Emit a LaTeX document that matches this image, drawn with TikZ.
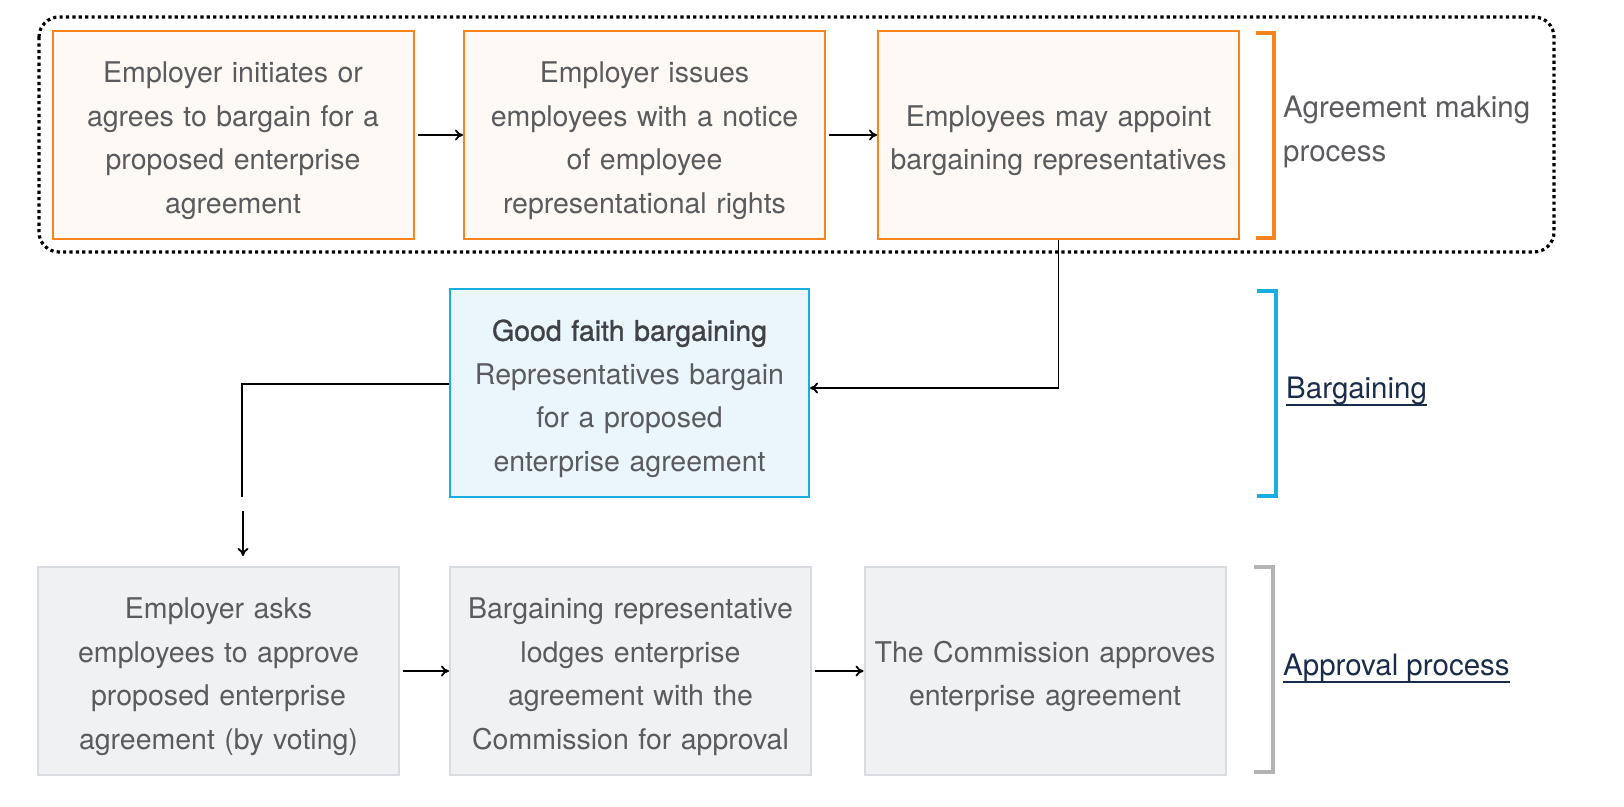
\documentclass[tikz,border=0pt]{standalone}
\usepackage{fontspec}
\setmainfont{TeX Gyre Heros}
\usetikzlibrary{arrows.meta}
\definecolor{txt}{HTML}{5A5B5E}
\definecolor{dark}{HTML}{404246}
\definecolor{orng}{HTML}{F7821E}
\definecolor{ofill}{HTML}{FEF9F4}
\definecolor{bline}{HTML}{1AAEE0}
\definecolor{bfill}{HTML}{EAF5FC}
\definecolor{gline}{HTML}{D8DBDF}
\definecolor{gfill}{HTML}{F0F1F3}
\definecolor{gbrk}{HTML}{B3B3B3}
\definecolor{navy}{HTML}{1B2B4B}
\begin{document}
\begin{tikzpicture}[x=1pt,y=-1pt,
  box/.style={rectangle, line width=2pt, minimum width=361pt, minimum height=208pt},
  btext/.style={text width=345pt, inner sep=0pt, align=center, text=txt,
    font=\fontsize{28.5}{43.5}\selectfont},
  obox/.style={box, draw=orng, fill=ofill},
  bbox/.style={box, draw=bline, fill=bfill, minimum width=359pt},
  gbox/.style={box, draw=gline, fill=gfill},
  lab/.style={inner sep=0pt, anchor=base west, font=\fontsize{29.5}{44}\selectfont},
  conn/.style={line width=1.8pt, black},
  arr/.style={conn, -{To[length=8pt,width=11pt]}},
  brk/.style={line width=4pt, miter limit=10},
]
\useasboundingbox (0,0) rectangle (1624,806);

% dotted group frame
\draw[line width=3.2pt, dash pattern=on 3.2pt off 3.2pt, rounded corners=20pt]
  (39,17) rectangle (1554,252);

% top row
\node[obox] (b1) at (233,135) {};
\node[btext] (b1t) at ([yshift=-5.5pt]b1.center) {Employer initiates or\\agrees to bargain for a\\proposed enterprise\\agreement};
\node[obox] (b2) at (644.5,135) {};
\node[btext] (b2t) at ([yshift=-5.5pt]b2.center) {Employer issues\\employees with a notice\\of employee\\representational rights};
\node[obox] (b3) at (1058.5,135) {};
\node[btext] (b3t) at ([yshift=-5.5pt]b3.center) {Employees may appoint\\bargaining representatives};

% bargaining
\node[bbox] (gb) at (629.5,393) {};
\node[btext] (gbt) at ([yshift=-5.5pt]gb.center) {{\color{dark}\addfontfeatures{FakeBold=1.2}Good faith bargaining}\\Representatives bargain\\for a proposed\\enterprise agreement};

% bottom row
\node[gbox] (a1) at (218.5,671) {};
\node[btext] (a1t) at ([yshift=-5.5pt]a1.center) {Employer asks\\employees to approve\\proposed enterprise\\agreement (by voting)};
\node[gbox] (a2) at (630.5,671) {};
\node[btext] (a2t) at ([yshift=-5.5pt]a2.center) {Bargaining representative\\lodges enterprise\\agreement with the\\Commission for approval};
\node[gbox] (a3) at (1045,671) {};
\node[btext] (a3t) at ([yshift=-5.5pt]a3.center) {The Commission approves\\enterprise agreement};

% connectors
\draw[arr, shorten <=3pt] (b1) -- (b2);
\draw[arr, shorten <=3pt] (b2) -- (b3);
\draw[arr] (b3.south) |- ([yshift=5pt]gb.east);
\coordinate (c1) at (242,497);
\coordinate (c2) at (243,511);
\draw[conn] ([yshift=9pt]gb.west) -| (c1);
\draw[arr, shorten >=10pt] (c2) -- (c2 |- a1.north);
\draw[arr, shorten <=3pt] (a1) -- (a2);
\draw[arr, shorten <=3pt] (a2) -- (a3);

% brackets
\draw[brk, orng] (1256,33) -- (1274,33) -- (1274,238) -- (1256,238);
\draw[brk, bline] (1257,291) -- (1276,291) -- (1276,496) -- (1257,496);
\draw[brk, gbrk, line width=3.5pt] (1254,567) -- (1273,567) -- (1273,772) -- (1254,772);

% labels
\node[lab, anchor=west, align=left, text=txt] (l1) at (1283,132) {Agreement making\\process};
\node[lab, text=navy] (l2) at (1286,398) {Bargaining};
\draw[navy, line width=1.5pt] ([yshift=-7pt]l2.base west) -- ([yshift=-7pt]l2.base east);
\node[lab, text=navy] (l3) at (1283,675) {Approval process};
\draw[navy, line width=1.5pt] ([yshift=-7pt]l3.base west) -- ([yshift=-7pt]l3.base east);
\end{tikzpicture}
\end{document}
